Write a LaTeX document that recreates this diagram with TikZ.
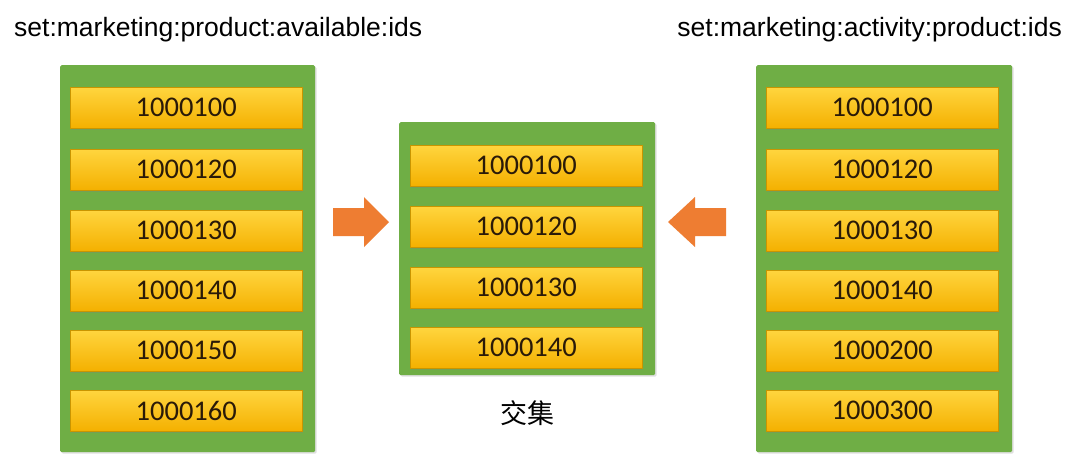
\documentclass[tikz,border=0pt]{standalone}
\usepackage{fontspec}
\setmainfont{Liberation Sans}
\newfontfamily\numfont{Carlito}
\newfontfamily\cjk{Noto Sans CJK SC}
\usetikzlibrary{shadows}
\definecolor{panelgreen}{HTML}{6FAE45}
\definecolor{itemtop}{HTML}{FFD53E}
\definecolor{itembot}{HTML}{F4B000}
\definecolor{itemedge}{HTML}{C99500}
\definecolor{arroworange}{HTML}{EE7D32}
\definecolor{numtext}{HTML}{2A1A08}
\tikzset{
  panel/.style={fill=panelgreen, draw=none, rounded corners=1.5pt, anchor=north west, inner sep=0pt,
    drop shadow={shadow xshift=1.5pt, shadow yshift=-1.5pt, opacity=0.25}},
  item/.style={top color=itemtop, bottom color=itembot, draw=itemedge, line width=0.5pt,
    minimum width=232pt, minimum height=41pt, inner sep=0pt, anchor=north west,
    font=\numfont\fontsize{28.5}{30}\selectfont, text=numtext,
    drop shadow={shadow xshift=1pt, shadow yshift=-1.5pt, opacity=0.3}},
  setlabel/.style={font=\fontsize{26.5}{28}\selectfont, text=black, inner sep=0pt},
  bigarrow/.style={fill=arroworange, draw=none}
}
\begin{document}
\begin{tikzpicture}[x=1pt,y=-1pt]
\useasboundingbox[fill=white] (0,0) rectangle (1080,464);
% panels
\node[panel, minimum width=255pt, minimum height=387pt] (lp) at (60,65) {};
\node[panel, minimum width=256pt, minimum height=253pt] (mp) at (399,122) {};
\node[panel, minimum width=256pt, minimum height=387pt] (rp) at (756,65) {};
% left items
\node[item] (l1) at (70,87) {1000100};
\node[item] (l2) at (70,149) {1000120};
\node[item] (l3) at (70,210) {1000130};
\node[item] (l4) at (70,270) {1000140};
\node[item] (l5) at (70,330) {1000150};
\node[item] (l6) at (70,390) {1000160};
% middle items
\node[item] (m1) at (410,145) {1000100};
\node[item] (m2) at (410,206) {1000120};
\node[item] (m3) at (410,267) {1000130};
\node[item] (m4) at (410,327) {1000140};
% right items
\node[item] (r1) at (766,87) {1000100};
\node[item] (r2) at (766,149) {1000120};
\node[item] (r3) at (766,210) {1000130};
\node[item] (r4) at (766,270) {1000140};
\node[item] (r5) at (766,330) {1000200};
\node[item] (r6) at (766,390) {1000300};
% labels
\node[setlabel, anchor=west] (ll) at (14,30) {set:marketing:product:available:ids};
\node[setlabel, anchor=east] (rl) at (1062,30) {set:marketing:activity:product:ids};
\node[font=\cjk\fontsize{27}{29}\selectfont, inner sep=0pt] (jj) at (527,413) {交集};
% arrows
\fill[bigarrow] (333,208) -- (364,208) -- (364,197) -- (389,222) -- (364,247) -- (364,236) -- (333,236) -- cycle;
\fill[bigarrow] (726,208) -- (695,208) -- (695,197) -- (668,222) -- (695,247) -- (695,236) -- (726,236) -- cycle;
\end{tikzpicture}
\end{document}
